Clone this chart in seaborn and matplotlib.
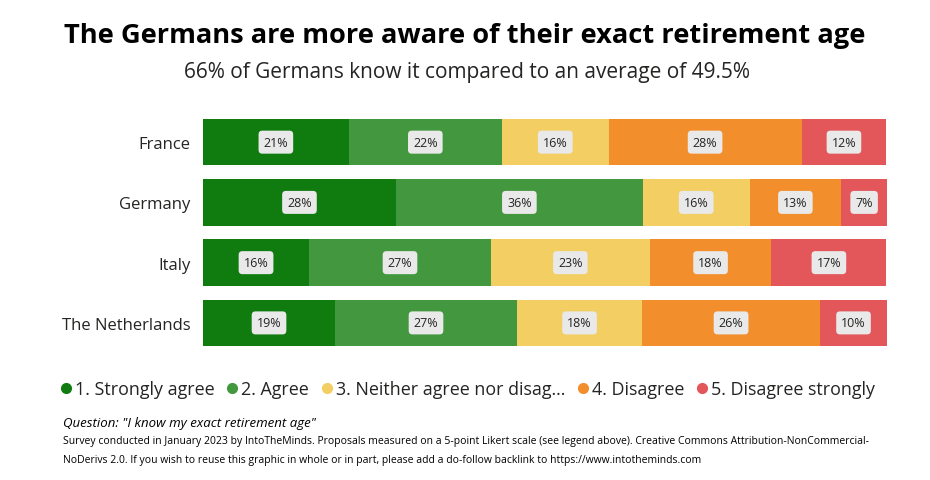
import matplotlib
matplotlib.use("Agg")
import matplotlib.pyplot as plt
from matplotlib.lines import Line2D
import seaborn as sns
import pandas as pd
import numpy as np

countries = ["France", "Germany", "Italy", "The Netherlands"]
categories = ["1. Strongly agree", "2. Agree", "3. Neither agree nor disag...",
              "4. Disagree", "5. Disagree strongly"]
strongly_agree = [21.3, 28.2, 15.5, 19.3]
agree = [22.4, 36.1, 26.6, 26.6]
neither = [15.6, 15.6, 23.2, 18.3]
disagree = [28.2, 13.4, 17.8, 26.0]
disagree_strongly = [12.4, 6.7, 16.8, 9.8]
colors = ["#107C10", "#43983F", "#F2CE63", "#F28F2C", "#E3565A"]

series = [strongly_agree, agree, neither, disagree, disagree_strongly]

sns.set_theme(style="white")
plt.rcParams["font.family"] = ["Open Sans", "DejaVu Sans"]

fig = plt.figure(figsize=(9.3, 4.81), dpi=100)
ax = fig.add_axes([0.2183, 0.264, 0.7355, 0.501])

vals = np.array(series)
cum = np.cumsum(vals, axis=0)
for i in range(len(categories) - 1, -1, -1):
    df = pd.DataFrame({"country": countries, "value": cum[i]})
    sns.barplot(data=df, y="country", x="value", orient="h", color=colors[i],
                width=0.77, saturation=1, ax=ax, linewidth=0, order=countries)

for i in range(len(categories)):
    starts = cum[i] - vals[i]
    for j, c in enumerate(countries):
        xc = starts[j] + vals[i][j] / 2
        ax.text(xc, j, f"{round(vals[i][j]):d}%", ha="center", va="center",
                fontsize=9, color="#252423",
                bbox=dict(boxstyle="round,pad=0.4,rounding_size=0.3",
                          fc="#E9E9E9", ec="none"))

ax.set_xlim(0, cum[-1].max())
ax.set_ylim(3.5, -0.5)
ax.set_xlabel("")
ax.set_ylabel("")
ax.set_xticks([])
ax.tick_params(axis="y", length=0, labelsize=12, pad=9, colors="#252423")
for s in ax.spines.values():
    s.set_visible(False)

fig.text(0.5, 0.925, "The Germans are more aware of their exact retirement age",
         ha="center", va="center", fontsize=19.6, fontweight="bold", color="#000000")
fig.text(0.502, 0.85, "66% of Germans know it compared to an average of 49.5%",
         ha="center", va="center", fontsize=15, color="#252423")

handles = [Line2D([0], [0], marker="o", linestyle="none", markersize=7,
                  markerfacecolor=c, markeredgecolor=c) for c in colors]
fig.legend(handles, categories, loc="center", bbox_to_anchor=(0.502, 0.189),
           ncol=5, frameon=False, fontsize=12.9, handletextpad=0.1,
           columnspacing=0.6, handlelength=0.8, labelcolor="#252423")

fig.text(0.068, 0.12, "Question: \"I know my exact retirement age\"", ha="left",
         va="center", fontsize=9.5, style="italic", color="#000000")
fig.text(0.068, 0.083,
         "Survey conducted in January 2023 by IntoTheMinds. Proposals measured on a 5-point Likert scale (see legend above). Creative Commons Attribution-NonCommercial-",
         ha="left", va="center", fontsize=7.5, color="#000000")
fig.text(0.068, 0.043,
         "NoDerivs 2.0. If you wish to reuse this graphic in whole or in part, please add a do-follow backlink to https://www.intotheminds.com",
         ha="left", va="center", fontsize=7.5, color="#000000")

fig.savefig("out.png", dpi=100)
